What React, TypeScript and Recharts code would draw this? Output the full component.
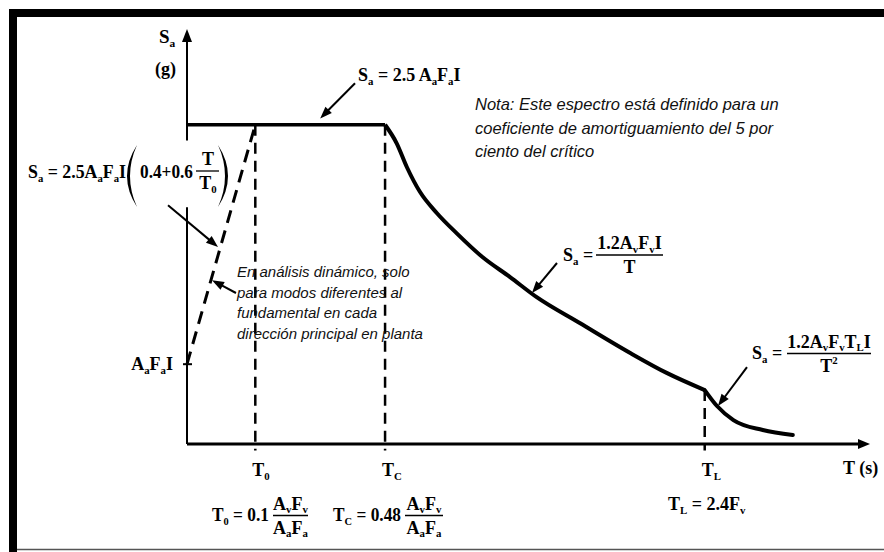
import React from "react"
import { ComposedChart, Line, XAxis, YAxis, ReferenceLine } from "recharts"

// Espectro elástico de diseño (dibujo esquemático, no a escala)
const periodTicks = [1.0, 2.9, 7.58]
const periodNames = ["T_0", "T_C", "T_L"]
const levelTicks = [0.25]
const levelNames = ["A_aF_aI"]

const ramp = [
  { t: 0, sa: 0.25 },
  { t: 1.0, sa: 1.0 },
]

const plateau = [
  { t: 0, sa: 1.0 },
  { t: 2.9, sa: 1.0 },
]

const velocityBranch = [
  { t: 2.9, sa: 1.0 },
  { t: 3.07, sa: 0.942 },
  { t: 3.22, sa: 0.867 },
  { t: 3.41, sa: 0.79 },
  { t: 3.66, sa: 0.723 },
  { t: 3.95, sa: 0.66 },
  { t: 4.33, sa: 0.585 },
  { t: 4.73, sa: 0.523 },
  { t: 5.12, sa: 0.46 },
  { t: 5.75, sa: 0.379 },
  { t: 6.49, sa: 0.285 },
  { t: 7.03, sa: 0.222 },
  { t: 7.58, sa: 0.169 },
]

const displacementBranch = [
  { t: 7.58, sa: 0.169 },
  { t: 7.76, sa: 0.119 },
  { t: 8.0, sa: 0.075 },
  { t: 8.43, sa: 0.044 },
  { t: 8.87, sa: 0.028 },
]

// flechas de las anotaciones (coordenadas del dibujo)
const pointers = [
  { from: { x: 2.46, y: 1.13 }, to: { x: 1.95, y: 1.02 } },
  { from: { x: -0.278, y: 0.748 }, to: { x: 0.454, y: 0.617 } },
  { from: { x: 0.717, y: 0.473 }, to: { x: 0.366, y: 0.513 } },
  { from: { x: 5.417, y: 0.567 }, to: { x: 5.051, y: 0.473 } },
  { from: { x: 8.199, y: 0.241 }, to: { x: 7.774, y: 0.119 } },
]

const SERIF = '"Liberation Serif", "Times New Roman", serif'
const SANS = '"Liberation Sans", Arial, sans-serif'

type Piece = { text: string; kind: "n" | "sub" | "sup" }

function parseMath(s: string): Piece[] {
  const out: Piece[] = []
  let buf = ""
  for (let i = 0; i < s.length; i++) {
    const c = s[i]
    if ((c === "_" || c === "^") && i + 1 < s.length) {
      if (buf) {
        out.push({ text: buf, kind: "n" })
        buf = ""
      }
      out.push({ text: s[i + 1], kind: c === "_" ? "sub" : "sup" })
      i++
    } else {
      buf += c
    }
  }
  if (buf) out.push({ text: buf, kind: "n" })
  return out
}

function MathText({ x, y, s, size = 18, anchor = "start", fit }: { x: number; y: number; s: string; size?: number; anchor?: string; fit?: number }) {
  let shift = 0
  return (
    <text
      x={x}
      y={y}
      fontFamily={SERIF}
      fontWeight="bold"
      fontSize={size}
      textAnchor={anchor as any}
      fill="#000"
      textLength={fit}
      lengthAdjust={fit ? "spacingAndGlyphs" : undefined}
      style={{ whiteSpace: "pre" }}
    >
      {parseMath(s).map((p, i) => {
        const target = p.kind === "sub" ? size * 0.22 : p.kind === "sup" ? -size * 0.4 : 0
        const dy = target - shift
        shift = target
        return (
          <tspan key={i} dy={dy} fontSize={p.kind === "n" ? size : size * 0.6}>
            {p.text}
          </tspan>
        )
      })}
    </text>
  )
}

function Frac({ cx, lineY, x1, x2, num, den }: { cx: number; lineY: number; x1: number; x2: number; num: string; den: string }) {
  return (
    <g>
      <MathText x={cx} y={lineY - 6} s={num} anchor="middle" />
      <line x1={x1} y1={lineY} x2={x2} y2={lineY} stroke="#000" strokeWidth={1.3} />
      <MathText x={cx} y={lineY + 18} s={den} anchor="middle" />
    </g>
  )
}

const arrowShape = (head: number, width: number, stroke: number) => (props: any) => {
  const { x1, y1, x2, y2 } = props
  const dx = x2 - x1
  const dy = y2 - y1
  const len = Math.hypot(dx, dy) || 1
  const ux = dx / len
  const uy = dy / len
  const bx = x2 - ux * head
  const by = y2 - uy * head
  const px = (-uy * width) / 2
  const py = (ux * width) / 2
  return (
    <g>
      <line x1={x1} y1={y1} x2={bx + ux * 2} y2={by + uy * 2} stroke="#000" strokeWidth={stroke} />
      <polygon points={`${x2},${y2} ${bx + px},${by + py} ${bx - px},${by - py}`} fill="#000" />
    </g>
  )
}

const plainLine = (stroke: number, dash?: string) => (props: any) => (
  <line x1={props.x1} y1={props.y1} x2={props.x2} y2={props.y2} stroke="#000" strokeWidth={stroke} strokeDasharray={dash} />
)

const PeriodTick = (props: any) => {
  const { x, y, payload } = props
  const idx = periodTicks.indexOf(payload.value)
  return <MathText x={x - 3} y={y + 32} s={periodNames[idx] ?? ""} />
}

const LevelTick = (props: any) => {
  const { x, y, payload } = props
  const idx = levelTicks.indexOf(payload.value)
  return (
    <g>
      <line x1={x - 4} y1={y} x2={x + 5} y2={y} stroke="#000" strokeWidth={2} />
      <MathText x={x - 14} y={y + 6} s={levelNames[idx] ?? ""} anchor="end" />
    </g>
  )
}

export default function App() {
  const guides = [
    { t: periodTicks[0], top: ramp[ramp.length - 1].sa },
    { t: periodTicks[1], top: plateau[plateau.length - 1].sa },
    { t: periodTicks[2], top: velocityBranch[velocityBranch.length - 1].sa },
  ]

  return (
    <div style={{ position: "absolute", left: 0, top: 0, width: 884, height: 552, background: "#fff" }}>
      <ComposedChart width={884} height={552} margin={{ top: 29, right: 14, bottom: 78, left: 127 }}>
        <XAxis
          type="number"
          dataKey="t"
          domain={[0, 10]}
          ticks={periodTicks}
          interval={0}
          axisLine={false}
          tickLine={false}
          tickSize={0}
          tickMargin={0}
          height={30}
          tick={PeriodTick}
        />
        <YAxis
          type="number"
          domain={[0, 1.3]}
          ticks={levelTicks}
          axisLine={false}
          tickLine={false}
          tickSize={0}
          tickMargin={0}
          width={60}
          tick={LevelTick}
        />

        {/* ejes */}
        <ReferenceLine segment={[{ x: 0, y: 0 }, { x: 10, y: 0 }]} ifOverflow="visible" shape={arrowShape(12, 10, 3)} />
        <ReferenceLine segment={[{ x: 0, y: 0 }, { x: 0, y: 0.742 }]} ifOverflow="visible" shape={plainLine(2)} />
        <ReferenceLine segment={[{ x: 0, y: 0.951 }, { x: 0, y: 1.3 }]} ifOverflow="visible" shape={arrowShape(13, 10, 2)} />

        {/* líneas guía de los periodos */}
        {guides.map((g, i) => (
          <ReferenceLine
            key={i}
            segment={[{ x: g.t, y: g.top }, { x: g.t, y: -0.02 }]}
            ifOverflow="visible"
            shape={plainLine(2.5, "11 7")}
          />
        ))}

        {pointers.map((p, i) => (
          <ReferenceLine key={`p${i}`} segment={[p.from, p.to]} ifOverflow="visible" shape={arrowShape(12, 9, 2)} />
        ))}

        <Line data={ramp} dataKey="sa" type="linear" stroke="#000" strokeWidth={3} strokeDasharray="13 8" dot={false} activeDot={false} isAnimationActive={false} />
        <Line data={plateau} dataKey="sa" type="linear" stroke="#000" strokeWidth={3.5} dot={false} activeDot={false} isAnimationActive={false} />
        <Line data={velocityBranch} dataKey="sa" type="monotone" stroke="#000" strokeWidth={4} dot={false} activeDot={false} isAnimationActive={false} />
        <Line data={displacementBranch} dataKey="sa" type="monotone" stroke="#000" strokeWidth={4} strokeLinecap="round" dot={false} activeDot={false} isAnimationActive={false} />
      </ComposedChart>

      <svg width={884} height={552} style={{ position: "absolute", left: 0, top: 0, pointerEvents: "none" }}>
        {/* marco */}
        <rect x={9} y={9} width={875} height={8} fill="#000" />
        <rect x={9} y={9} width={8} height={543} fill="#000" />
        <line x1={17} y1={549.5} x2={884} y2={549.5} stroke="#555" strokeWidth={1.5} />

        {/* eje vertical */}
        <MathText x={159} y={43} s="S_a" size={19} />
        <MathText x={155} y={75} s="(g)" />

        {/* meseta */}
        <MathText x={358} y={81} s="S_a = 2.5 A_aF_aI" />

        {/* rama ascendente */}
        <MathText x={28} y={178} s="S_a = 2.5A_aF_aI" fit={98} />
        <path d="M137 145 Q117 176 137 207 Q123 176 137 145 Z" fill="#000" />
        <MathText x={140} y={178} s="0.4+0.6" fit={53} />
        <Frac cx={208} lineY={171} x1={196} x2={219} num="T" den="T_0" />
        <path d="M218 145 Q238 176 218 207 Q232 176 218 145 Z" fill="#000" />

        {/* nota */}
        {["Nota: Este espectro está definido para un", "coeficiente de amortiguamiento del 5 por", "ciento del crítico"].map((l, i) => (
          <text key={l} x={475} y={110 + i * 23.5} fontFamily={SANS} fontStyle="italic" fontSize={16.5} fill="#111">
            {l}
          </text>
        ))}

        {["En análisis dinámico, solo", "para modos diferentes al", "fundamental en cada", "dirección principal en planta"].map((l, i) => (
          <text key={l} x={237} y={277 + i * 20.6} fontFamily={SANS} fontStyle="italic" fontSize={15} fill="#111">
            {l}
          </text>
        ))}

        {/* rama de velocidad */}
        <MathText x={563} y={261} s="S_a =" />
        <Frac cx={629.5} lineY={255} x1={596} x2={663} num="1.2A_vF_vI" den="T" />

        {/* rama de desplazamiento */}
        <MathText x={752} y={359} s="S_a =" />
        <Frac cx={829} lineY={353.5} x1={787} x2={871} num="1.2A_vF_vT_LI" den="T^2" />

        {/* eje horizontal */}
        <MathText x={843} y={474} s="T (s)" />

        <MathText x={212} y={521} s="T_0 = 0.1" fit={57} />
        <Frac cx={290.5} lineY={515.5} x1={273} x2={308} num="A_vF_v" den="A_aF_a" />
        <MathText x={333} y={521} s="T_C = 0.48" fit={68} />
        <Frac cx={424} lineY={515.5} x1={405} x2={443} num="A_vF_v" den="A_aF_a" />
        <MathText x={668} y={510} s="T_L = 2.4F_v" />
      </svg>
    </div>
  )
}
